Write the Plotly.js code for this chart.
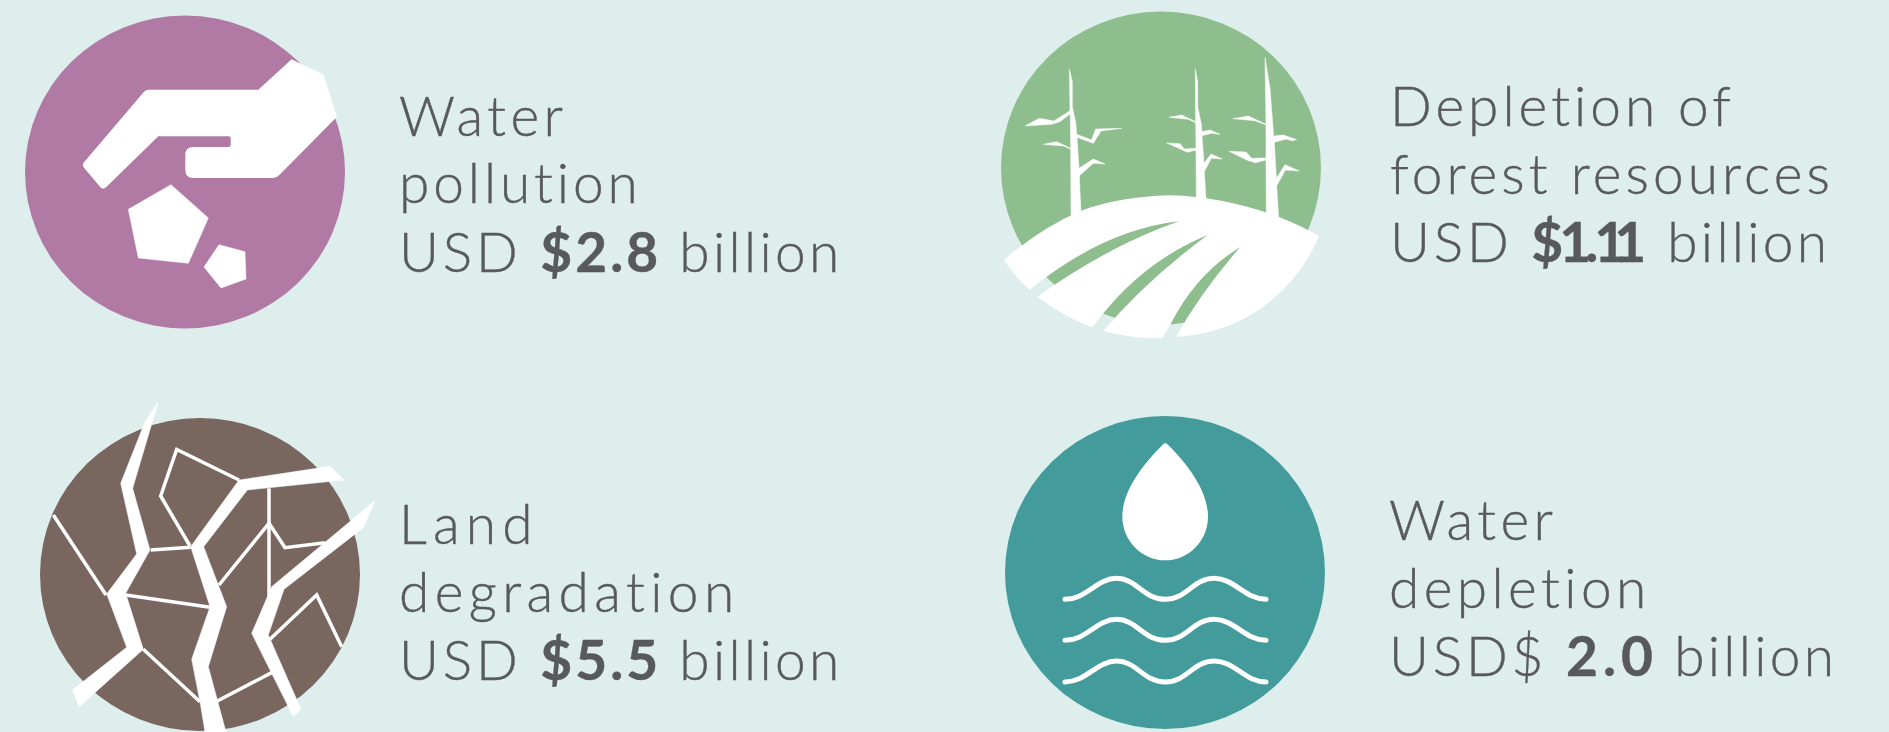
<!DOCTYPE html>
<html><head><meta charset="utf-8">
<script src="https://cdn.plot.ly/plotly-3.0.1.min.js"></script>
<style>html,body{margin:0;padding:0;background:#DEEEEC;overflow:hidden}
.shapelayer path{stroke-linecap:round}
.annotation-text{stroke:#58595B;stroke-width:0.4px}</style></head>
<body><div id="chart" style="width:1889px;height:732px"></div>
<script>
// Text: each line = lead + bold + tail
const lineLead = ["Water","pollution","USD ","Depletion of","forest resources","USD ","Land","degradation","USD ","Water","depletion","USD$ "];
const lineBold = ["","","$2.8","","","$1.11","","","$5.5","","","2.0"];
const lineTail = ["",""," billion","",""," billion","",""," billion","",""," billion"];
const lineX = [398,398,398, 1389,1389,1389, 398,398,398, 1388,1388,1388];
const lineBase = [136,203,272, 126,194,262, 544,612,680, 540,608,676];
const lineSpacing = [4.4,3.9,3.8, 4,4.1,3.8, 6.2,5.4,3.8, 4.4,4.4,3.8];
const tailSpacing = [0,0,3.3, 0,0,3.3, 0,0,3.3, 0,0,3.3];
// tracking after each bold character but the last
const boldSpacing = [[],[],[3,3,3],[],[],[-4,-6,-4,-12],[],[],[3,3,3],[],[],[5,5]];
// Discs
const discCx = [185,1161,200,1165];
const discCy = [172,168,574.5,572.5];
const discColors = ["#B17AA5","#8EBE8E","#78665F","#439B9B"];
const discRx = 160, discRy = 156.5;
// Icon outlines: points read in crop pixels (3x) with crop origin
const stoneBig = [[513,554],[625,654],[565,790],[415,774],[385,628]];
const stoneSmall = [[657,734],[735,755],[738,837],[663,864],[612,801]];
const tree1 = [[268,207],[277,245],[277,320],[288,372],[290,403],[335,420],[347,387],[425,385],[363,393],[340,430],[291,412],[297,505],[340,477],[375,492],[340,490],[298,527],[303,640],[273,650],[272,447],[250,438],[190,433],[230,425],[272,445],[271,342],[238,366],[215,373],[135,378],[178,355],[222,363],[270,332]];
const tree2 = [[646,207],[653,245],[653,320],[664,372],[666,395],[690,390],[720,403],[695,400],[666,407],[672,490],[693,462],[727,477],[694,475],[673,515],[678,600],[649,600],[648,450],[622,457],[603,448],[560,429],[600,431],[613,447],[648,445],[647,368],[625,358],[567,352],[605,345],[647,365]];
const tree3 = [[855,173],[870,265],[881,408],[910,405],[950,419],[935,422],[918,417],[883,427],[889,535],[915,494],[958,513],[916,510],[890,558],[896,655],[859,640],[858,480],[826,488],[805,482],[747,454],[798,456],[815,475],[858,474],[858,375],[825,362],[758,356],[805,348],[858,373]];
const crackA = [[414,38],[375,95],[302,280],[350,492],[260,612],[320,772],[157,900],[178,950],[370,778],[317,610],[390,480],[338,295]];
const crackB = [[930,229],[972,270],[682,300],[551,470],[620,650],[565,830],[618,1026],[555,1026],[540,935],[515,808],[570,650],[512,470],[657,270]];
const crackC = [[1065,332],[1030,413],[792,598],[745,735],[843,958],[820,980],[695,730],[755,590]];
const veins = [
  [[100,375],[258,615]],
  [[657,270],[470,178],[422,318],[510,468]],
  [[392,480],[512,472]],
  [[317,615],[570,652]],
  [[747,295],[747,620]],
  [[597,585],[747,400],[795,473],[915,458]],
  [[750,748],[890,615],[965,770]],
  [[370,778],[540,935]],
  [[592,933],[755,848]]
];
// Curved outlines
const handPath = [['M',875,178],['L',970,224],['L',1011,350],['L',838,525],['Q',830,534,820,534],['L',580,534],['Q',556,534,556,510],['L',556,465],['Q',556,441,580,441],['L',686,441],['Q',692,441,692,435],['L',692,415],['Q',692,409,686,409],['L',475,409],['L',318,562],['Q',308,570,300,560],['L',252,503],['Q',245,495,252,487],['L',432,275],['Q',438,269,445,269],['L',775,269],['Z']];
const fieldPath = [['M',72,780],['Q',180,685,303,632],['Q',420,590,570,586],['Q',730,590,895,650],['Q',960,675,1017,708],['Q',965,835,850,920],['Q',740,1000,588,1011],['Q',660,880,780,742],['Q',650,820,573,970],['L',548,1014],['Q',460,1018,370,993],['Q',500,840,683,705],['Q',500,780,370,940],['L',336,982],['Q',250,950,172,890],['Q',390,735,597,664],['Q',370,690,148,870],['Q',105,830,72,780],['Z']];
const dropPath = [['M',534,134],['C',590,190,654,270,654,350],['C',654,422,596,481,526,481],['C',456,481,397,422,397,350],['C',397,270,462,190,518,134],['Q',526,126,534,134],['Z']];
const wave1 = [['M',225,598],['C',290,598,320,535,380,535],['C',440,535,460,598,526,598],['C',590,598,610,535,672,535],['C',735,535,765,598,828,598]];
const wave2 = [['M',225,721],['C',290,721,320,658,380,658],['C',440,658,460,721,526,721],['C',590,721,610,658,672,658],['C',735,658,765,721,828,721]];
const wave3 = [['M',225,846],['C',290,846,320,783,380,783],['C',440,783,460,846,526,846],['C',590,846,610,783,672,783],['C',735,783,765,846,828,846]];

const toX = (p,o)=>p.map(q=>o+q[0]/3), toY = (p,o)=>p.map(q=>o+q[1]/3);
const solid = (p,ox,oy,name)=>{const c=p.concat([p[0]]);return {type:'scatter',mode:'lines',name,x:toX(c,ox),y:toY(c,oy),fill:'toself',fillcolor:'#FFFFFF',line:{color:'#FFFFFF',width:0.5},hoverinfo:'skip'}};
const stroke = (p,ox,oy,w,name)=>({type:'scatter',mode:'lines',name,x:toX(p,ox),y:toY(p,oy),line:{color:'#FFFFFF',width:w},hoverinfo:'skip'});
const pathOf = (segs,ox,oy)=>segs.map(s=>s[0]+s.slice(1).map((v,i)=>(i%2?oy:ox)+v/3).join(',')).join(' ');
const filled = (segs,ox,oy)=>({type:'path',layer:'above',xref:'x',yref:'y',path:pathOf(segs,ox,oy),fillcolor:'#FFFFFF',line:{width:0}});
const curve = (segs,ox,oy,w)=>({type:'path',layer:'above',xref:'x',yref:'y',path:pathOf(segs,ox,oy),fillcolor:'rgba(0,0,0,0)',line:{color:'#FFFFFF',width:w}});

const traces = [
  solid(stoneBig,0,0,'stone'),solid(stoneSmall,0,0,'stone small'),
  solid(tree1,980,0,'tree 1'),solid(tree2,980,0,'tree 2'),solid(tree3,980,0,'tree 3'),
  solid(crackA,20,390,'crack A'),solid(crackB,20,390,'crack B'),solid(crackC,20,390,'crack C'),
  ...veins.map((v,i)=>stroke(v,20,390,3.5,'vein '+i))
];
const shapes = [
  ...discCx.map((cx,i)=>({type:'circle',layer:'below',xref:'x',yref:'y',x0:cx-discRx,x1:cx+discRx,y0:discCy[i]-discRy,y1:discCy[i]+discRy,fillcolor:discColors[i],line:{width:0}})),
  filled(handPath,0,0),filled(fieldPath,980,0),filled(dropPath,990,400),
  curve(wave1,990,400,5),curve(wave2,990,400,5),curve(wave3,990,400,5)
];
const spanOf = (t,ls)=>t?`<span style="letter-spacing:${ls}px">${t}</span>`:'';
const textOf = i=>{
  const b=lineBold[i];
  let s=spanOf(lineLead[i],lineSpacing[i]);
  if(b) s+='<b>'+[...b].map((c,k)=>spanOf(c,k<boldSpacing[i].length?boldSpacing[i][k]:3)).join('')+'</b>';
  if(lineTail[i]) s+=spanOf(lineTail[i],tailSpacing[i]);
  return s;
};
const annotations = lineLead.map((t,i)=>({text:textOf(i),x:lineX[i],y:lineBase[i]+13,xref:'x',yref:'y',xanchor:'left',yanchor:'bottom',showarrow:false,align:'left',borderpad:0,
  font:{family:'Lato, sans-serif',size:55,weight:300,color:'#58595B'}}));
const hidden = {visible:false,fixedrange:true,showgrid:false,zeroline:false};
Plotly.newPlot('chart',traces,{width:1889,height:732,margin:{l:0,r:0,t:0,b:0,pad:0},paper_bgcolor:'#DEEEEC',plot_bgcolor:'#DEEEEC',showlegend:false,
  xaxis:{...hidden,range:[0,1889]},yaxis:{...hidden,range:[732,0]},shapes,annotations},{staticPlot:true,displayModeBar:false});
</script></body></html>
